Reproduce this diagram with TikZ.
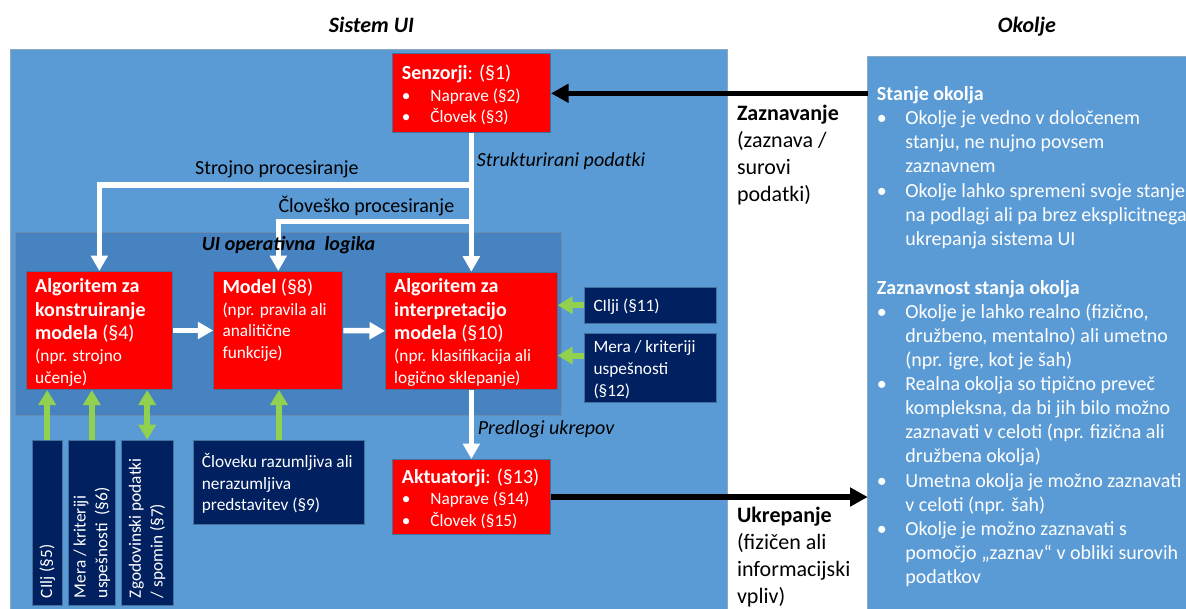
\documentclass[tikz,border=0pt]{standalone}
\usepackage{fontspec}
\setmainfont{Carlito}
\usepackage{tikz}
\usetikzlibrary{arrows.meta}

\definecolor{uiblue}{RGB}{91,155,213}
\definecolor{logicblue}{RGB}{72,131,193}
\definecolor{edgeblue}{RGB}{65,113,156}
\definecolor{uinavy}{RGB}{0,32,96}
\definecolor{uigreen}{RGB}{146,208,80}

\newcommand{\bul}{\makebox[28.5pt][l]{\textbullet}}
\newcommand{\ind}{\hspace*{28.5pt}}
\newcommand{\sm}{\fontsize{17.3}{21.7}\selectfont}

\tikzset{
  panel/.style={fill=uiblue,draw=edgeblue!60,line width=1pt},
  redbox/.style={fill=red,draw=edgeblue,line width=1pt,anchor=north west,inner sep=0pt},
  navybox/.style={fill=uinavy,draw=edgeblue,line width=1pt,anchor=north west,inner sep=0pt},
  txt/.style={anchor=base west,inner sep=0pt,align=left},
  intxt/.style={txt,text=white},
  grtip/.tip={Triangle[width=17pt,length=15pt]},
  wharrow/.style={draw=white,line width=5.5pt,-{Triangle[width=16.5pt,length=15.5pt]}},
  grarrow/.style={draw=uigreen,line width=6pt,-grtip},
  bkarrow/.style={draw=black,line width=5.3pt,-{Triangle[width=18pt,length=17.5pt]}},
}

\begin{document}
\begin{tikzpicture}[x=1pt,y=-1pt]
  \useasboundingbox (0,0) rectangle (1186,608);
  \fill[white] (0,0) rectangle (1186,608);

  \draw[panel] (10,49) rectangle (727.7,620);
  \draw[panel] (867.7,56) rectangle (1200,620);
  \coordinate (okolje) at (867.7,56);
  \draw[fill=logicblue,draw=edgeblue!80,line width=1pt] (15,232.7) rectangle (561.7,415);

  \node[anchor=base,font=\fontsize{22}{26}\selectfont\bfseries\itshape] (sistemT) at (371.5,32.7) {Sistem UI};
  \node[anchor=base,font=\fontsize{22}{26}\selectfont\bfseries\itshape] (okoljeT) at (1027,32.7) {Okolje};

  \node[redbox,minimum width=158.3pt,minimum height=79pt] (senz) at (391.7,53.3) {};
  \node[redbox,minimum width=145.7pt,minimum height=118pt] (konstr) at (26,271) {};
  \node[redbox,minimum width=129pt,minimum height=118pt] (model) at (213.3,271) {};
  \node[redbox,minimum width=171.7pt,minimum height=117.3pt] (interp) at (385,271.7) {};
  \node[redbox,minimum width=158.3pt,minimum height=75pt] (akt) at (391.7,459) {};

  \node[navybox,minimum width=30pt,minimum height=165pt] (cilj5) at (31.7,439.7) {};
  \node[navybox,minimum width=47.3pt,minimum height=165pt] (mera6) at (67.7,439.7) {};
  \node[navybox,minimum width=52pt,minimum height=165pt] (zgod7) at (120.7,439.7) {};
  \node[navybox,minimum width=171.6pt,minimum height=83.7pt] (predst9) at (192.7,440.3) {};
  \node[navybox,minimum width=131.7pt,minimum height=36pt] (cilji11) at (584,286.7) {};
  \node[navybox,minimum width=131.7pt,minimum height=68.4pt] (mera12) at (584,333.3) {};

  % multi-line texts sit on the baseline of their last line
  \node[intxt,font=\fontsize{20}{21.8}\selectfont] (senzT) at ([shift={(10,69.6)}]senz.north west)
    {\textbf{Senzorji}: (§1)\\\sm\bul Naprave (§2)\\\sm\bul Človek (§3)};
  \node[intxt,font=\fontsize{20}{21.8}\selectfont] (aktT) at ([shift={(10,67.6)}]akt.north west)
    {\textbf{Aktuatorji}: (§13)\\\sm\bul Naprave (§14)\\\sm\bul Človek (§15)};
  \node[intxt,font=\fontsize{20}{23.3}\selectfont] (konstrT) at ([shift={(9,112)}]konstr.north west)
    {\textbf{Algoritem za}\\\textbf{konstruiranje}\\\textbf{modela} (§4)\\[-1.1pt]\sm (npr. strojno\\[-1.8pt]\sm učenje)};
  \node[intxt,font=\fontsize{20}{21.3}\selectfont] (modelT) at ([shift={(9,87.1)}]model.north west)
    {\textbf{Model} (§8)\\[0.7pt]\sm (npr. pravila ali\\\sm analitične\\\sm funkcije)};
  \node[intxt,font=\fontsize{20}{23.3}\selectfont] (interpT) at ([shift={(9,111.3)}]interp.north west)
    {\textbf{Algoritem za}\\\textbf{interpretacijo}\\\textbf{modela} (§10)\\[-1.1pt]\sm (npr. klasifikacija ali\\[-1.8pt]\sm logično sklepanje)};

  \node[intxt,font=\sm] (cilji11T) at ([shift={(9.3,25)}]cilji11.north west) {CIlji (§11)};
  \node[intxt,font=\sm] (mera12T) at ([shift={(9.3,62.8)}]mera12.north west) {Mera / kriteriji\\uspešnosti\\(§12)};
  \node[intxt,font=\sm] (predst9T) at ([shift={(9,70.4)}]predst9.north west) {Človeku razumljiva ali\\nerazumljiva\\predstavitev (§9)};
  \node[anchor=west,rotate=90,inner sep=0pt,align=left,text=white,font=\sm] (cilj5T) at ([yshift=7.5pt]cilj5.south) {CIlj (§5)};
  \node[anchor=west,rotate=90,inner sep=0pt,align=left,text=white,font=\sm] (mera6T) at ([yshift=7.5pt]mera6.south) {Mera / kriteriji\\uspešnosti\ \ (§6)};
  \node[anchor=west,rotate=90,inner sep=0pt,align=left,text=white,font=\sm] (zgod7T) at ([yshift=7.5pt]zgod7.south) {Zgodovinski podatki\\/ spomin (§7)};

  \node[txt,font=\fontsize{20}{24}\selectfont] (strojnoL) at (195,174) {Strojno procesiranje};
  \node[txt,font=\fontsize{20}{24}\selectfont] (clovL) at (278.3,212) {Človeško procesiranje};
  \node[txt,font=\fontsize{20}{24}\selectfont\itshape] (strukL) at (476.7,166) {Strukturirani podatki};
  \node[txt,font=\fontsize{20}{24}\selectfont\itshape] (predL) at (477.7,434.7) {Predlogi ukrepov};

  \node[txt,font=\fontsize{22}{27}\selectfont] (zaznL) at (736.8,201.7) {\textbf{Zaznavanje}\\(zaznava /\\surovi\\podatki)};
  \node[txt,font=\fontsize{22}{27}\selectfont] (ukrepL) at (736.8,603.3) {\textbf{Ukrepanje}\\(fizičen ali\\informacijski\\vpliv)};

  \node[intxt,font=\fontsize{20}{24.3}\selectfont] (stanjeT) at (876.7,245.8)
    {\textbf{Stanje okolja}\\\bul Okolje je vedno v določenem\\\ind stanju, ne nujno povsem\\\ind zaznavnem\\\bul Okolje lahko spremeni svoje stanje\\\ind na podlagi ali pa brez eksplicitnega\\\ind ukrepanja sistema UI};
  \node[intxt,font=\fontsize{20}{24.05}\selectfont] (zaznavT) at (876.7,583.2)
    {\textbf{Zaznavnost stanja okolja}\\\bul Okolje je lahko realno (fizično,\\\ind družbeno, mentalno) ali umetno\\\ind (npr. igre, kot je šah)\\\bul Realna okolja so tipično preveč\\\ind kompleksna, da bi jih bilo možno\\\ind zaznavati v celoti (npr. fizična ali\\\ind družbena okolja)\\\bul Umetna okolja je možno zaznavati\\\ind v celoti (npr. šah)\\\bul Okolje je možno zaznavati s\\\ind pomočjo „zaznav“ v obliki surovih\\\ind podatkov};

  \path (senz.south) ++(0,51.9) coordinate (strojno) ++(0,36.5) coordinate (clovesko);
  \draw[wharrow] (senz.south) -- (interp.north);
  \draw[wharrow] (strojno) -| (konstr.north);
  \draw[wharrow] (clovesko) -| (model.north);
  \draw[wharrow] (konstr.east) -- (model.west);
  \draw[wharrow] (model.east) -- (interp.west);
  \draw[wharrow] (interp.south) -- (akt.north);

  \foreach \src/\dst in {cilj5/konstr,mera6/konstr,predst9/model}
    \draw[grarrow] (\src.north) -- (\src.north |- \dst.south);
  \draw[grarrow,grtip-grtip] (zgod7.north) -- (zgod7.north |- konstr.south);
  \draw[grarrow] (cilji11.west) -- (cilji11.west -| interp.east);
  \draw[grarrow] ([yshift=12.5pt]mera12.west) -- ([yshift=12.5pt]mera12.west -| interp.east);

  \draw[bkarrow] (okolje |- senz.east) -- (senz.east);
  \draw[bkarrow] (akt.east) -- (akt.east -| okolje);

  \node[txt,font=\fontsize{20}{24}\selectfont\bfseries\itshape] (logikaL) at (201.7,250) {UI operativna\ \ logika};
\end{tikzpicture}
\end{document}
